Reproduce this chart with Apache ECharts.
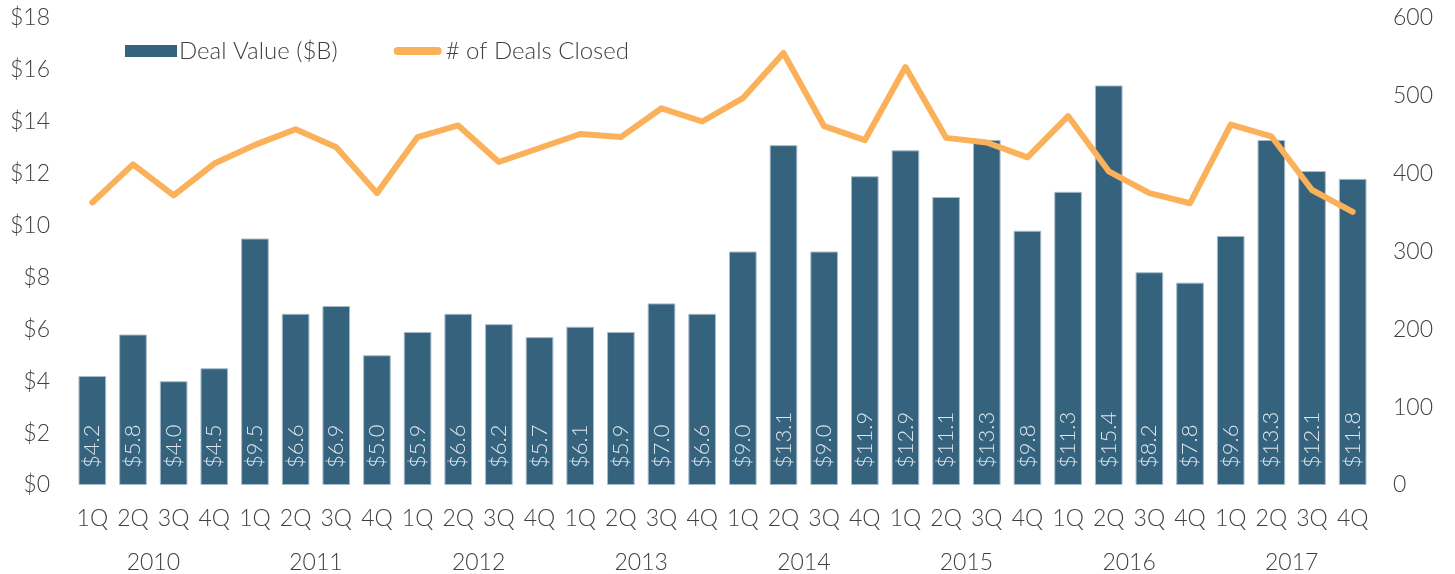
<!DOCTYPE html>
<html>
<head>
<meta charset="utf-8">
<script src="https://cdn.jsdelivr.net/npm/echarts@6/dist/echarts.min.js"></script>
<style>
html,body{margin:0;padding:0;background:#fff;}
#chart{width:1455px;height:574px;}
</style>
</head>
<body>
<div id="chart"></div>
<script>
const quarters = ['1Q','2Q','3Q','4Q','1Q','2Q','3Q','4Q','1Q','2Q','3Q','4Q','1Q','2Q','3Q','4Q','1Q','2Q','3Q','4Q','1Q','2Q','3Q','4Q','1Q','2Q','3Q','4Q','1Q','2Q','3Q','4Q'];
const years = ['2010','2011','2012','2013','2014','2015','2016','2017'];
const dealValue = [4.2,5.8,4.0,4.5,9.5,6.6,6.9,5.0,5.9,6.6,6.2,5.7,6.1,5.9,7.0,6.6,9.0,13.1,9.0,11.9,12.9,11.1,13.3,9.8,11.3,15.4,8.2,7.8,9.6,13.3,12.1,11.8];
const dealsClosed = [363,412,372,413,437,457,434,375,447,462,415,433,451,447,484,467,497,555,461,443,537,446,440,421,474,403,375,362,463,448,379,351];

const FONT = 'Lato, "Open Sans", sans-serif';
const TXT = '#404040';
const FS = 23;
const chart = echarts.init(document.getElementById('chart'));
chart.setOption({
  animation: false,
  textStyle: {fontFamily: FONT},
  grid: {left: 72, right: 82, top: 18, bottom: 89},
  legend: {
    left: 120, top: 34,
    itemWidth: 52, itemHeight: 12, itemGap: 52,
    textStyle: {fontFamily: FONT, fontSize: 24, color: TXT, fontWeight: 300, padding: [0,0,0,-3]},
    data: [
      {name: 'Deal Value ($B)', icon: 'rect', itemStyle: {borderWidth: 0}},
      {name: '# of Deals Closed',
       icon: 'path://M6,0 L46,0 A6,6 0 0 1 46,12 L6,12 A6,6 0 0 1 6,0 Z',
       itemStyle: {color: '#fbb05a', borderColor: '#ffffff', borderWidth: 4}}
    ]
  },
  xAxis: [
    {
      type: 'category', data: quarters, position: 'bottom',
      axisLine: {show: false}, axisTick: {show: false},
      axisLabel: {fontFamily: FONT, fontSize: FS, color: TXT, margin: 22, fontWeight: 300, interval: 0}
    },
    {
      type: 'category', data: years, position: 'bottom', offset: 44,
      axisLine: {show: false}, axisTick: {show: false},
      axisLabel: {fontFamily: FONT, fontSize: FS, color: TXT, margin: 22, fontWeight: 300}
    }
  ],
  yAxis: [
    {
      type: 'value', min: 0, max: 18, interval: 2,
      splitLine: {show: false}, axisLine: {show: false}, axisTick: {show: false},
      axisLabel: {fontFamily: FONT, fontSize: FS, color: TXT, margin: 22, fontWeight: 300, formatter: v => '$' + v}
    },
    {
      type: 'value', min: 0, max: 600, interval: 100, position: 'right',
      splitLine: {show: false}, axisLine: {show: false}, axisTick: {show: false},
      axisLabel: {fontFamily: FONT, fontSize: FS, color: TXT, margin: 20, fontWeight: 300, align: 'left'}
    }
  ],
  series: [
    {
      name: 'Deal Value ($B)', type: 'bar', data: dealValue,
      xAxisIndex: 0, yAxisIndex: 0,
      barCategoryGap: '32%',
      itemStyle: {color: '#35637e', borderColor: '#a9bccb', borderWidth: 1},
      label: {
        show: true, position: 'insideBottom', distance: 17, rotate: 90,
        align: 'left', verticalAlign: 'middle',
        fontFamily: FONT, fontSize: 22, fontWeight: 300, color: '#dfe7ee',
        formatter: p => '$' + p.value.toFixed(1)
      }
    },
    {
      name: '# of Deals Closed', type: 'line', data: dealsClosed,
      xAxisIndex: 0, yAxisIndex: 1,
      symbol: 'none', z: 5,
      lineStyle: {color: '#fbb05a', width: 6, cap: 'round', join: 'round'},
      itemStyle: {color: '#fbb05a'}
    }
  ]
});
</script>
</body>
</html>
